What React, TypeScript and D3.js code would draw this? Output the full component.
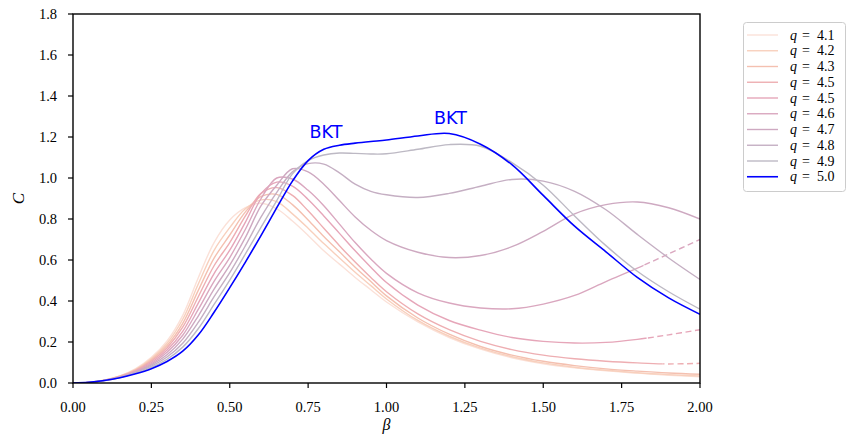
import React from "react";
import * as d3 from "d3";

// ---- data ----
const beta = [0, 0.05, 0.1, 0.15, 0.2, 0.25, 0.3, 0.35, 0.4, 0.45, 0.5, 0.55, 0.6, 0.65, 0.7, 0.75, 0.8, 0.85, 0.9, 0.95, 1.0, 1.1, 1.2, 1.3, 1.4, 1.5, 1.6, 1.7, 1.8, 1.9, 2.0];
const q41 = [0, .003, .014, .035, .07, .125, .205, .33, .515, .685, .795, .855, .877, .85, .79, .72, .645, .58, .515, .455, .395, .298, .222, .165, .123, .094, .074, .059, .048, .038, .03];
const q42 = [0, .003, .014, .034, .067, .119, .194, .311, .484, .647, .758, .85, .893, .885, .825, .755, .68, .61, .54, .475, .41, .305, .228, .17, .128, .098, .077, .062, .05, .041, .034];
const q43 = [0, .003, .014, .033, .064, .113, .183, .291, .453, .609, .722, .835, .91, .92, .87, .795, .715, .64, .565, .495, .425, .317, .238, .178, .136, .106, .085, .069, .058, .049, .043];
const q45a = [0, .003, .013, .032, .061, .107, .172, .272, .422, .572, .685, .815, .925, .953, .915, .84, .755, .67, .59, .515, .445, .337, .26, .203, .163, .136, .118, .106, .098, .093, .096];
const q45b = [0, .003, .013, .031, .058, .1, .161, .252, .391, .534, .648, .785, .925, .98, .96, .895, .815, .73, .645, .565, .49, .38, .305, .258, .222, .203, .195, .198, .213, .235, .26];
const q46 = [0, .003, .013, .03, .056, .094, .15, .233, .36, .496, .612, .75, .90, 1.0, .995, .94, .865, .775, .685, .605, .535, .44, .39, .366, .362, .385, .427, .495, .56, .63, .70];
const q47 = [0, .003, .013, .029, .053, .088, .138, .214, .328, .458, .575, .71, .865, .965, 1.045, 1.03, .97, .89, .81, .745, .695, .638, .612, .622, .665, .74, .825, .87, .883, .855, .80];
const q48 = [0, .003, .012, .028, .05, .082, .127, .194, .297, .421, .538, .67, .81, .93, 1.03, 1.07, 1.068, 1.025, .97, .935, .918, .905, .925, .96, .993, .985, .935, .845, .725, .61, .505];
const q49 = [0, .003, .012, .027, .048, .076, .116, .175, .266, .383, .502, .63, .76, .89, 1.02, 1.085, 1.112, 1.122, 1.12, 1.117, 1.118, 1.14, 1.163, 1.155, 1.075, .965, .815, .67, .545, .445, .36];
const q50 = [0, .003, .012, .026, .045, .07, .105, .155, .235, .345, .465, .59, .72, .855, .985, 1.085, 1.14, 1.16, 1.17, 1.178, 1.185, 1.205, 1.217, 1.165, 1.065, .915, .765, .64, .515, .415, .335];

const seriesLabels = ["4.1", "4.2", "4.3", "4.5", "4.5", "4.6", "4.7", "4.8", "4.9", "5.0"];
const seriesValues = [q41, q42, q43, q45a, q45b, q46, q47, q48, q49, q50];
const seriesColors = ["#fbe1d8", "#f8d0bd", "#f4c0b0", "#eeaeb2", "#e6a6b9", "#daa7bf", "#cea9c1", "#c5afc3", "#bdb9c4", "#0000ff"];
// beta where the curve turns dashed (null = never)
const dashStart: (number | null)[] = [null, null, null, 1.88, 1.83, 1.82, null, null, null, null];

const xTicks = [0, 0.25, 0.5, 0.75, 1.0, 1.25, 1.5, 1.75, 2.0];
const yTicks = [0, 0.2, 0.4, 0.6, 0.8, 1.0, 1.2, 1.4, 1.6, 1.8];
const annotations = [
  { text: "BKT", beta: 0.807, c: 1.195 },
  { text: "BKT", beta: 1.204, c: 1.263 },
];

export default function App() {
  const W = 846, H = 435;
  const left = 73, right = 700, top = 14, bottom = 383;
  const x = d3.scaleLinear().domain([0, 2]).range([left, right]);
  const y = d3.scaleLinear().domain([0, 1.8]).range([bottom, top]);
  const line = d3.line<number>().x((_, i) => x(beta[i])).y(d => y(d)).curve(d3.curveCatmullRom.alpha(0.5));
  const serif = "'Liberation Serif', 'DejaVu Serif', Tinos, 'Times New Roman', serif";

  return (
    <svg width={W} height={H} style={{ position: "absolute", left: 0, top: 0, background: "#fff" }} xmlns="http://www.w3.org/2000/svg">
      <defs>
        <clipPath id="plot"><rect x={left} y={top} width={right - left} height={bottom - top} /></clipPath>
        {dashStart.map((d, i) => d == null ? null : (
          <React.Fragment key={i}>
            <clipPath id={`solid${i}`}><rect x={left} y={top} width={x(d) - left} height={bottom - top} /></clipPath>
            <clipPath id={`dash${i}`}><rect x={x(d)} y={top} width={right - x(d)} height={bottom - top} /></clipPath>
          </React.Fragment>
        ))}
      </defs>
      <rect x={0} y={0} width={W} height={H} fill="#fff" />
      <g clipPath="url(#plot)">
        {seriesValues.map((s, i) => {
          const d = line(s) || "";
          const sw = i === 9 ? 1.6 : 1.4;
          if (dashStart[i] == null) {
            return <path key={i} d={d} fill="none" stroke={seriesColors[i]} strokeWidth={sw} />;
          }
          return (
            <g key={i}>
              <path d={d} fill="none" stroke={seriesColors[i]} strokeWidth={sw} clipPath={`url(#solid${i})`} />
              <path d={d} fill="none" stroke={seriesColors[i]} strokeWidth={sw} strokeDasharray="6,3.5" clipPath={`url(#dash${i})`} />
            </g>
          );
        })}
      </g>
      {annotations.map((a, i) => (
        <text key={i} x={x(a.beta)} y={y(a.c)} textAnchor="middle" fill="#0000ff" style={{ fontFamily: "'DejaVu Sans', sans-serif", fontSize: 17.5 }}>{a.text}</text>
      ))}
      <rect x={left} y={top} width={right - left} height={bottom - top} fill="none" stroke="#000" strokeWidth={1.4} />
      {xTicks.map(t => (
        <g key={t}>
          <line x1={x(t)} x2={x(t)} y1={bottom} y2={bottom + 5} stroke="#000" strokeWidth={1.2} />
          <text x={x(t)} y={412} textAnchor="middle" style={{ fontFamily: serif, fontSize: 14.5 }}>{t.toFixed(2)}</text>
        </g>
      ))}
      {yTicks.map(t => (
        <g key={t}>
          <line x1={left - 5} x2={left} y1={y(t)} y2={y(t)} stroke="#000" strokeWidth={1.2} />
          <text x={57} y={y(t) + 5} textAnchor="end" style={{ fontFamily: serif, fontSize: 14.5 }}>{t.toFixed(1)}</text>
        </g>
      ))}
      <text x={(left + right) / 2} y={430} textAnchor="middle" style={{ fontFamily: serif, fontStyle: "italic", fontSize: 16 }}>β</text>
      <text transform={`translate(24,${(top + bottom) / 2}) rotate(-90)`} textAnchor="middle" style={{ fontFamily: serif, fontStyle: "italic", fontSize: 17 }}>C</text>
      <rect x={743.5} y={22.5} width={102} height={169} rx={3} fill="#fff" stroke="#cccccc" strokeWidth={1} />
      {seriesLabels.map((lab, i) => {
        const ly = 35 + i * 15.75;
        return (
          <g key={i}>
            <line x1={747} x2={778} y1={ly} y2={ly} stroke={seriesColors[i]} strokeWidth={i === 9 ? 1.6 : 1.4} />
            <text x={790} y={ly + 4.5} style={{ fontFamily: serif, fontStyle: "italic", fontSize: 14 }}>q</text>
            <text x={802} y={ly + 4.5} style={{ fontFamily: serif, fontSize: 14 }}>=</text>
            <text x={817} y={ly + 4.5} style={{ fontFamily: serif, fontSize: 14 }}>{lab}</text>
          </g>
        );
      })}
    </svg>
  );
}
